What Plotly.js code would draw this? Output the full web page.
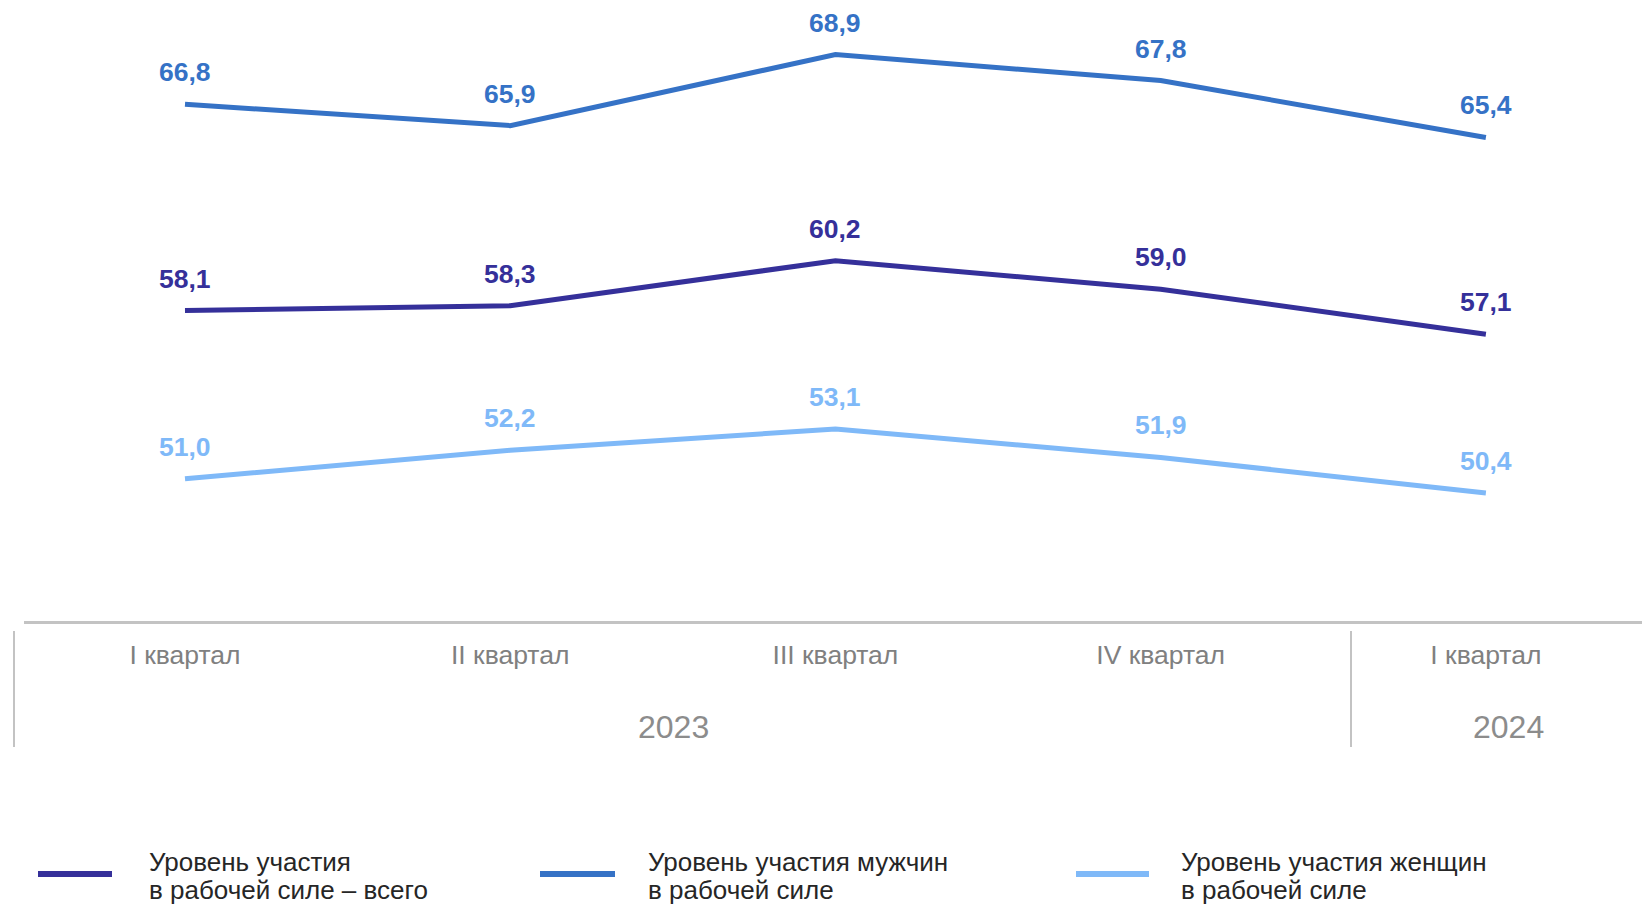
<!DOCTYPE html>
<html>
<head>
<meta charset="utf-8">
<script src="https://cdn.plot.ly/plotly-3.0.1.min.js"></script>
<style>
html,body{margin:0;padding:0;background:#fff;}
#chart{width:1642px;height:907px;}
</style>
</head>
<body>
<div id="chart"></div>
<script>
// ---- data ----
const categories = ['I квартал', 'II квартал', 'III квартал', 'IV квартал', 'I квартал'];
const years = ['2023', '2024'];
const seriesNames = [
  'Уровень участия<br>в рабочей силе – всего',
  'Уровень участия мужчин<br>в рабочей силе',
  'Уровень участия женщин<br>в рабочей силе'
];
const total = [58.1, 58.3, 60.2, 59.0, 57.1];
const men = [66.8, 65.9, 68.9, 67.8, 65.4];
const women = [51.0, 52.2, 53.1, 51.9, 50.4];

// ---- styling ----
const colors = ['#35309a', '#3572c6', '#7fb9f8'];
const series = [total, men, women];
const FONT = 'Liberation Sans, Arial, sans-serif';
const W = 1642, H = 907;
const M = {l: 24, r: 0, t: 0, b: 286};
const plotH = H - M.t - M.b, plotW = W - M.l - M.r;
const px2x = px => (px - M.l) / plotW;
const px2y = py => (M.t + plotH - py) / plotH;

const xIdx = categories.map((_, i) => i);

const traces = series.map((vals, k) => ({
  type: 'scatter',
  mode: 'lines',
  x: xIdx,
  y: vals,
  line: {color: colors[k], width: 5},
  name: seriesNames[k],
  showlegend: false,
  hoverinfo: 'skip'
}));

const annotations = [];
series.forEach((vals, k) => {
  vals.forEach((v, i) => {
    annotations.push({
      x: xIdx[i], y: v, xref: 'x', yref: 'y',
      text: v.toFixed(1).replace('.', ','),
      showarrow: false, yshift: 32,
      font: {family: FONT, size: 26.5, color: colors[k], weight: 'bold'}
    });
  });
});

// year labels
const yearX = [1.503, 4.07];
years.forEach((yr, j) => {
  annotations.push({
    x: yearX[j], xref: 'x', y: px2y(727), yref: 'paper',
    text: yr, showarrow: false, yanchor: 'middle',
    font: {family: FONT, size: 32, color: '#8c8c8c'}
  });
});

const shapes = [];
// group separators
[14, 1351].forEach(px => {
  shapes.push({
    type: 'line', xref: 'paper', yref: 'paper',
    x0: px2x(px), x1: px2x(px), y0: px2y(631), y1: px2y(747),
    line: {color: '#c3c3c3', width: 2}
  });
});

// custom legend
const legSample = [[38, 112], [540, 615], [1076, 1149]];
const legTextX = [148, 647, 1180];
const legLineY = [862, 890];
seriesNames.forEach((nm, k) => {
  shapes.push({
    type: 'line', xref: 'paper', yref: 'paper',
    x0: px2x(legSample[k][0]), x1: px2x(legSample[k][1]),
    y0: px2y(874), y1: px2y(874),
    line: {color: colors[k], width: 6}
  });
  nm.split('<br>').forEach((ln, j) => {
    annotations.push({
      x: px2x(legTextX[k]), y: px2y(legLineY[j]), xref: 'paper', yref: 'paper',
      xanchor: 'left', yanchor: 'middle', align: 'left',
      text: ln, showarrow: false, borderpad: 0,
      font: {family: FONT, size: 26, color: '#262626'}
    });
  });
});

const layout = {
  width: W, height: H,
  margin: M,
  paper_bgcolor: '#ffffff', plot_bgcolor: '#ffffff',
  showlegend: false,
  xaxis: {
    range: [-0.495, 4.48],
    tickvals: xIdx, ticktext: categories,
    showline: true, linecolor: '#c3c3c3', linewidth: 2.5,
    showgrid: false, zeroline: false, ticks: '',
    ticklabelstandoff: 9,
    tickfont: {family: FONT, size: 26.5, color: '#808080'},
    fixedrange: true
  },
  yaxis: {
    range: [45, 71.2],
    visible: false, showgrid: false, zeroline: false, fixedrange: true
  },
  annotations: annotations,
  shapes: shapes
};

Plotly.newPlot('chart', traces, layout, {displayModeBar: false, staticPlot: true});
</script>
</body>
</html>
